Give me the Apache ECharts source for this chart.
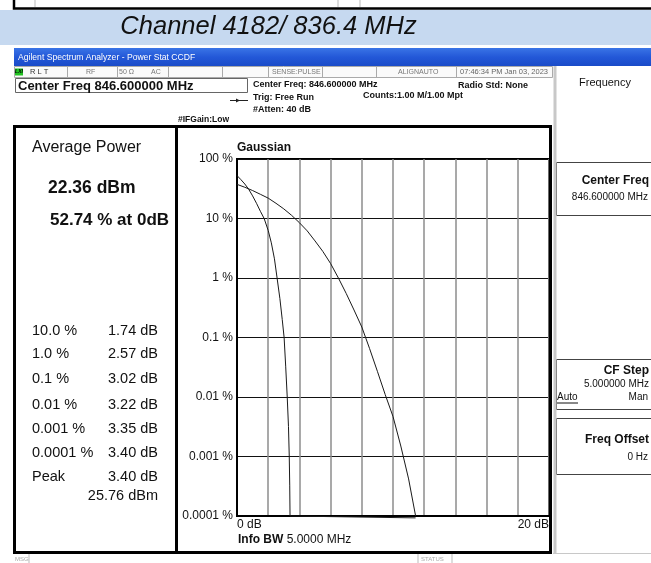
<!DOCTYPE html>
<html><head><meta charset="utf-8">
<script src="https://cdn.jsdelivr.net/npm/echarts@6/dist/echarts.min.js"></script>
<style>html,body{margin:0;padding:0;background:#fff}#c{width:651px;height:563px}</style>
</head><body><div id="c"></div>
<script>
// ---- data ----
const gaussX = [0, 0.5, 1, 1.5, 2, 2.5, 3, 3.5, 4, 4.5, 5, 5.5, 6, 6.5, 7, 7.5, 8, 8.5, 9, 9.5, 10, 10.5, 11, 11.45];
const gaussY = [37.5, 33.5, 29.5, 25.5, 22, 18, 14.5, 11.3, 8.5, 6.2, 4.2, 2.8, 1.75, 1.0, 0.55, 0.29, 0.15, 0.065, 0.027, 0.011, 0.0047, 0.0015, 0.00042, 0.0001];
const measX = [0, 0.25, 0.5, 0.75, 1.0, 1.25, 1.5, 1.74, 2.0, 2.2, 2.4, 2.57, 2.75, 2.9, 3.02, 3.12, 3.22, 3.3, 3.35, 3.38, 3.40, 3.40, 11.45];
const measY = [52.7, 45, 38, 31, 24, 18, 13.2, 10, 6.3, 3.9, 2.1, 1.0, 0.45, 0.2, 0.1, 0.033, 0.01, 0.0032, 0.001, 0.00033, 0.0001, 0.000093, 0.000093];
const xTickLabels = ['0 dB', '20 dB'];
const yTickLabels = ['0.0001 %', '0.001 %', '0.01 %', '0.1 %', '1 %', '10 %', '100 %'];
const tableLabels = ['10.0 %', '1.0 %', '0.1 %', '0.01 %', '0.001 %', '0.0001 %', 'Peak'];
const tableValues = ['1.74 dB', '2.57 dB', '3.02 dB', '3.22 dB', '3.35 dB', '3.40 dB', '3.40 dB'];
const peakPower = '25.76 dBm';
const titleText = 'Channel 4182/ 836.4 MHz';

// ---- helpers ----
const F = '"Liberation Sans", Arial, sans-serif';
function T(text, x, y, size, o) {
  o = o || {};
  const font = (o.italic ? 'italic ' : '') + (o.bold ? 'bold ' : '') + size + 'px ' + F;
  return { type: 'text', x: x, y: y, z: 50, silent: true,
    style: { text: text, fill: o.color || '#111', font: font,
      align: o.align || 'left', textAlign: o.align || 'left',
      verticalAlign: 'middle', textVerticalAlign: 'middle' } };
}
function R(x, y, w, h, fill, stroke, lw, z) {
  return { type: 'rect', z: z == null ? 1 : z, silent: true, shape: { x: x, y: y, width: w, height: h },
    style: { fill: fill || 'none', stroke: stroke || 'none', lineWidth: lw || 0 } };
}
function L(x1, y1, x2, y2, c, lw, z) {
  return { type: 'line', z: z == null ? 5 : z, silent: true, shape: { x1: x1, y1: y1, x2: x2, y2: y2 },
    style: { stroke: c, lineWidth: lw } };
}

const els = [];
// top strip (previous screen's status bar)
els.push(R(14, -3, 650, 11.5, '#fff', '#000', 2.5));
els.push(L(35, 0, 35, 7, '#bbb', 1), L(338, 0, 338, 7, '#bbb', 1), L(360, 0, 360, 7, '#bbb', 1));
// title band
els.push(R(0, 10, 651, 35, '#c6d9f0'));
els.push(T(titleText, 268.5, 27, 25.5, { italic: true, align: 'center', color: '#111' }));
// window title bar
els.push({ type: 'rect', z: 1, silent: true, shape: { x: 14, y: 48, width: 637, height: 18 },
  style: { fill: { type: 'linear', x: 0, y: 0, x2: 0, y2: 1, colorStops: [
    { offset: 0, color: '#3a74e6' }, { offset: 0.5, color: '#2358d8' }, { offset: 1, color: '#1a4bc8' }] } } });
els.push(T('Agilent Spectrum Analyzer - Power Stat CCDF', 18, 58, 8.6, { color: '#fff' }));
// status row
els.push(R(14.5, 66.5, 538, 11, '#fafafa', '#aaa', 1));
[67, 117, 168, 222, 268, 322, 376, 456].forEach(function (x) { els.push(L(x + 0.5, 67, x + 0.5, 77, '#aaa', 1)); });
els.push(R(15, 68.5, 8, 7, '#22c322'));
els.push(T('LXI', 19, 72, 5, { bold: true, italic: true, align: 'center', color: '#000' }));
els.push(T('R L T', 30, 72, 7.5, { color: '#333' }));
els.push(T('RF', 86, 72, 7, { color: '#777' }));
els.push(T('50 Ω', 119, 72, 7, { color: '#777' }));
els.push(T('AC', 151, 72, 7, { color: '#777' }));
els.push(T('SENSE:PULSE', 272, 72, 7, { color: '#777' }));
els.push(T('ALIGNAUTO', 398, 72, 7, { color: '#777' }));
els.push(T('07:46:34 PM Jan 03, 2023', 460, 72, 7.5, { color: '#666' }));
// Center Freq box
els.push(R(15.5, 78.5, 232, 14, '#fff', '#666', 1));
els.push(T('Center Freq 846.600000 MHz', 18, 86, 13, { bold: true }));
// setting texts
els.push(T('Center Freq: 846.600000 MHz', 253, 85, 9, { bold: true }));
els.push(T('Trig: Free Run', 253, 98, 9, { bold: true }));
els.push(T('#Atten: 40 dB', 253, 110, 9, { bold: true }));
els.push(T('#IFGain:Low', 178, 120, 8.5, { bold: true }));
els.push(T('Radio Std: None', 458, 86, 9, { bold: true }));
els.push(T('Counts:1.00 M/1.00 Mpt', 363, 96, 9, { bold: true }));
els.push(L(230, 100.5, 248, 100.5, '#222', 1));
els.push({ type: 'polygon', z: 5, silent: true, shape: { points: [[236, 98.5], [240, 100.5], [236, 102.5]] }, style: { fill: '#222' } });
// right panel
els.push(L(555, 66, 555, 553, '#c8c8c8', 3));
els.push(L(553, 553.5, 651, 553.5, '#c8c8c8', 1));
els.push(T('Frequency', 605, 83, 11, { align: 'center' }));
els.push(R(556.5, 162.5, 100, 53, 'none', '#444', 1));
els.push(T('Center Freq', 649, 181, 12, { bold: true, align: 'right' }));
els.push(T('846.600000 MHz', 648, 197, 10, { align: 'right' }));
els.push(R(556.5, 359.5, 100, 50, 'none', '#444', 1));
els.push(T('CF Step', 649, 371, 12, { bold: true, align: 'right' }));
els.push(T('5.000000 MHz', 649, 384, 10, { align: 'right' }));
els.push(T('Auto', 557, 397, 10));
els.push(L(557, 403, 578, 403, '#111', 1));
els.push(T('Man', 648, 397, 10, { align: 'right' }));
els.push(R(556.5, 418.5, 100, 56, 'none', '#444', 1));
els.push(T('Freq Offset', 649, 440, 12, { bold: true, align: 'right' }));
els.push(T('0 Hz', 648, 457, 10, { align: 'right' }));
// main frame
els.push(R(14.5, 126.5, 536, 426, 'none', '#000', 3, 10));
els.push(L(176.5, 126, 176.5, 553, '#000', 3, 10));
// left panel
els.push(T('Average Power', 32, 147.5, 16));
els.push(T('22.36 dBm', 48, 188, 17.5, { bold: true }));
els.push(T('52.74 % at 0dB', 50, 220, 17, { bold: true }));
const rowY = [330.5, 354, 379, 404.5, 429, 452.5, 477];
tableLabels.forEach(function (t, i) {
  els.push(T(t, 32, rowY[i], 14.5));
  els.push(T(tableValues[i], 158, rowY[i], 14.5, { align: 'right' }));
});
els.push(T(peakPower, 158, 496, 14.5, { align: 'right' }));
// plot texts
els.push(T('Gaussian', 237, 148, 12, { bold: true }));
els.push({ type: 'text', x: 238, y: 540, z: 50, silent: true,
  style: { text: '{b|Info BW} 5.0000 MHz', fill: '#111', font: '12px ' + F,
    verticalAlign: 'middle', textVerticalAlign: 'middle',
    rich: { b: { fontWeight: 'bold', fontSize: 12, fontFamily: F, fill: '#111', color: '#111' } } } });
// bottom strip
els.push(T('MSG', 15, 559, 6, { color: '#aaa' }));
els.push(L(29, 554, 29, 563, '#bbb', 1));
els.push(L(418, 554, 418, 563, '#bbb', 1), L(452, 554, 452, 563, '#bbb', 1));
els.push(T('STATUS', 421, 559, 6, { color: '#aaa' }));

const gaussData = gaussX.map(function (x, i) { return [x, gaussY[i]]; });
const measData = measX.map(function (x, i) { return [x, measY[i]]; });

const chart = echarts.init(document.getElementById('c'), null, { renderer: 'canvas' });
chart.setOption({
  backgroundColor: '#fff',
  animation: false,
  textStyle: { fontFamily: F },
  grid: { left: 237, top: 159, width: 312, height: 357, show: true, borderColor: '#000', borderWidth: 2, backgroundColor: '#fff' },
  xAxis: {
    type: 'value', min: 0, max: 20, interval: 2,
    axisLine: { show: true, lineStyle: { color: '#000', width: 2 } },
    axisTick: { show: false },
    splitLine: { show: true, lineStyle: { color: '#8c8c8c', width: 1.5 } },
    axisLabel: {
      show: true, margin: 3, fontSize: 12, color: '#111', fontFamily: F,
      alignMinLabel: 'left', alignMaxLabel: 'right',
      formatter: function (v) { return v === 0 ? xTickLabels[0] : (v === 20 ? xTickLabels[1] : ''); }
    }
  },
  yAxis: {
    type: 'log', logBase: 10, min: 0.0001, max: 100,
    axisLine: { show: true, lineStyle: { color: '#000', width: 2 } },
    axisTick: { show: false },
    splitLine: { show: true, lineStyle: { color: '#111', width: 1 } },
    axisLabel: {
      show: true, margin: 4, fontSize: 12, color: '#111', fontFamily: F,
      formatter: function (v) { const i = Math.round(Math.log10(v)) + 4; return yTickLabels[i] || ''; }
    }
  },
  series: [
    { type: 'line', name: 'Gaussian', data: gaussData, showSymbol: false, smooth: false,
      lineStyle: { color: '#1a1a1a', width: 1 }, z: 3, clip: false },
    { type: 'line', name: 'Measured', data: measData, showSymbol: false, smooth: false,
      lineStyle: { color: '#1a1a1a', width: 1 }, z: 3, clip: false }
  ],
  graphic: { elements: els }
});
</script>
</body></html>
